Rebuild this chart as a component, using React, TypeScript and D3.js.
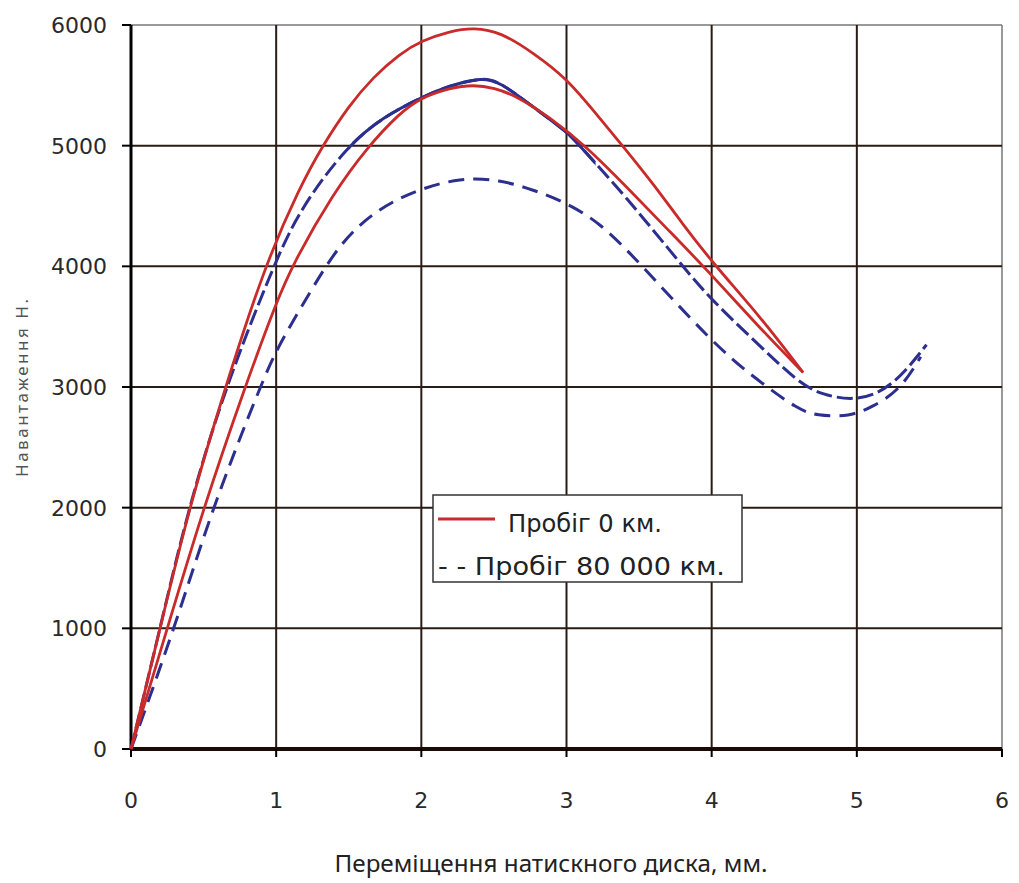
import React from "react";
import * as d3 from "d3";

// Load vs. pressure-plate travel, two samples for each mileage
const xTicks = [0, 1, 2, 3, 4, 5, 6];
const yTicks = [0, 1000, 2000, 3000, 4000, 5000, 6000];

const run0Upper: [number, number][] = [
  [0, 0], [0.2, 1000], [0.4, 2000], [0.65, 3000], [0.92, 4000], [1.16, 4650],
  [1.32, 5000], [1.5, 5330], [1.67, 5570], [1.85, 5760], [2.0, 5870], [2.2, 5950],
  [2.36, 5980], [2.55, 5940], [2.77, 5770], [3.0, 5560], [3.2, 5270], [3.4, 4980],
  [3.6, 4680], [3.8, 4350], [4.02, 4010], [4.33, 3590], [4.63, 3120],
];

const run0Lower: [number, number][] = [
  [0, 0], [0.25, 1000], [0.5, 2000], [0.785, 3000], [1.0, 3700], [1.12, 4030],
  [1.39, 4600], [1.63, 4990], [1.85, 5270], [2.0, 5400], [2.2, 5480], [2.36, 5505],
  [2.5, 5480], [2.66, 5410], [2.89, 5230], [3.13, 5000], [3.42, 4650], [3.71, 4290],
  [4.0, 3930], [4.33, 3490], [4.63, 3120],
];

const run80Upper: [number, number][] = [
  [0, 0], [0.2, 1000], [0.395, 2000], [0.65, 3000], [0.98, 4000], [1.16, 4470],
  [1.49, 5000], [1.74, 5240], [2.0, 5400], [2.2, 5500], [2.42, 5565], [2.54, 5530],
  [2.77, 5320], [3.01, 5110], [3.09, 5000], [3.41, 4577], [3.8, 4000], [4.0, 3720],
  [4.31, 3366], [4.6, 3035], [4.75, 2940], [5.0, 2877], [5.25, 3000], [5.48, 3350],
];

const run80Lower: [number, number][] = [
  [0, 0], [0.3, 1000], [0.56, 2000], [0.89, 3000], [1.0, 3310], [1.23, 3780],
  [1.44, 4196], [1.69, 4470], [1.97, 4635], [2.27, 4735], [2.54, 4718], [2.77, 4635],
  [3.0, 4527], [3.23, 4361], [3.48, 4060], [4.0, 3370], [4.31, 3060], [4.6, 2810],
  [4.72, 2765], [4.95, 2753], [5.11, 2836], [5.3, 2977], [5.44, 3250],
];

// Stretch of the upper 80 000 km curve that was plotted as a continuous line
const run80UpperSolidRange = [1.5, 3.2];

const legendLabels = ["Пробіг 0 км.", "- - Пробіг 80 000 км."];
const xTitle = "Переміщення натискного диска, мм.";
const yTitle = "Навантаження Н.";

const RED = "#c92a2a";
const BLUE = "#2c2f8e";
const GRID = "#2a1c14";

export default function App() {
  const width = 1019;
  const height = 883;
  const left = 131;
  const right = 1002;
  const top = 25;
  const bottom = 749;

  const x = d3.scaleLinear().domain([0, 6]).range([left, right]);
  const y = d3.scaleLinear().domain([0, 6000]).range([bottom, top]);

  const line = d3
    .line<[number, number]>()
    .x((d) => x(d[0]))
    .y((d) => y(d[1]))
    .curve(d3.curveBasis);

  const tickFont = "'DejaVu Sans', Verdana, sans-serif";
  const textFont = "'Noto Sans', 'Open Sans', sans-serif";

  return (
    <svg
      width={width}
      height={height}
      style={{ position: "absolute", left: 0, top: 0, background: "#fff" }}
    >
      <defs>
        <clipPath id="solid-part">
          <rect
            x={x(run80UpperSolidRange[0])}
            y={0}
            width={x(run80UpperSolidRange[1]) - x(run80UpperSolidRange[0])}
            height={height}
          />
        </clipPath>
      </defs>

      {/* frame: top and right */}
      <line x1={left} x2={right} y1={top} y2={top} stroke="#777" strokeWidth={1.5} />
      <line x1={right} x2={right} y1={top} y2={bottom} stroke="#777" strokeWidth={1.5} />

      {/* grid */}
      {yTicks.slice(1, -1).map((t) => (
        <line key={"gy" + t} x1={left} x2={right} y1={y(t)} y2={y(t)} stroke={GRID} strokeWidth={2} />
      ))}
      {xTicks.slice(1, -1).map((t) => (
        <line key={"gx" + t} x1={x(t)} x2={x(t)} y1={top} y2={bottom} stroke={GRID} strokeWidth={2} />
      ))}

      {/* axes */}
      <line x1={left} x2={left} y1={top} y2={bottom} stroke="#000" strokeWidth={3} />
      <line x1={left} x2={right} y1={bottom} y2={bottom} stroke="#1a0a05" strokeWidth={4} />
      {yTicks.map((t) => (
        <g key={"ty" + t}>
          <line x1={left - 9} x2={left} y1={y(t)} y2={y(t)} stroke="#000" strokeWidth={2} />
          <text
            x={left - 24}
            y={y(t)}
            dy="0.36em"
            textAnchor="end"
            fontFamily={tickFont}
            fontSize={22}
            fill="#2a2a2a"
          >
            {t}
          </text>
        </g>
      ))}
      {xTicks.map((t) => (
        <g key={"tx" + t}>
          <line x1={x(t)} x2={x(t)} y1={bottom} y2={bottom + 8} stroke="#000" strokeWidth={2} />
          <text
            x={x(t)}
            y={808}
            textAnchor="middle"
            fontFamily={tickFont}
            fontSize={22}
            fill="#2a2a2a"
          >
            {t}
          </text>
        </g>
      ))}

      {/* curves */}
      <path d={line(run80Lower) || ""} fill="none" stroke={BLUE} strokeWidth={3} strokeDasharray="16,9" />
      <path d={line(run80Upper) || ""} fill="none" stroke={BLUE} strokeWidth={3} strokeDasharray="16,5" />
      <path d={line(run80Upper) || ""} fill="none" stroke={BLUE} strokeWidth={3} clipPath="url(#solid-part)" />
      <path d={line(run0Lower) || ""} fill="none" stroke={RED} strokeWidth={2.8} />
      <path d={line(run0Upper) || ""} fill="none" stroke={RED} strokeWidth={2.8} />

      {/* legend */}
      <g>
        <rect x={433} y={495} width={309} height={87} fill="#fff" stroke="#333" strokeWidth={1.5} />
        <line x1={438} x2={495} y1={519} y2={519} stroke={RED} strokeWidth={3} />
        <text
          x={508}
          y={532}
          fontFamily={tickFont}
          fontSize={24}
          fill="#222"
          textLength={154}
          lengthAdjust="spacingAndGlyphs"
        >
          {legendLabels[0]}
        </text>
        <text
          x={438}
          y={575}
          fontFamily={tickFont}
          fontSize={24}
          fill="#222"
          textLength={287}
          lengthAdjust="spacingAndGlyphs"
        >
          {legendLabels[1]}
        </text>
      </g>

      {/* axis titles */}
      <text
        x={551}
        y={872}
        textAnchor="middle"
        fontFamily={textFont}
        fontSize={23}
        fill="#222"
        textLength={433}
        lengthAdjust="spacingAndGlyphs"
      >
        {xTitle}
      </text>
      <text
        transform={`translate(28, ${388}) rotate(-90)`}
        textAnchor="middle"
        fontFamily={textFont}
        fontSize={17}
        fill="#555"
        textLength={178}
        lengthAdjust="spacing"
      >
        {yTitle}
      </text>
    </svg>
  );
}
